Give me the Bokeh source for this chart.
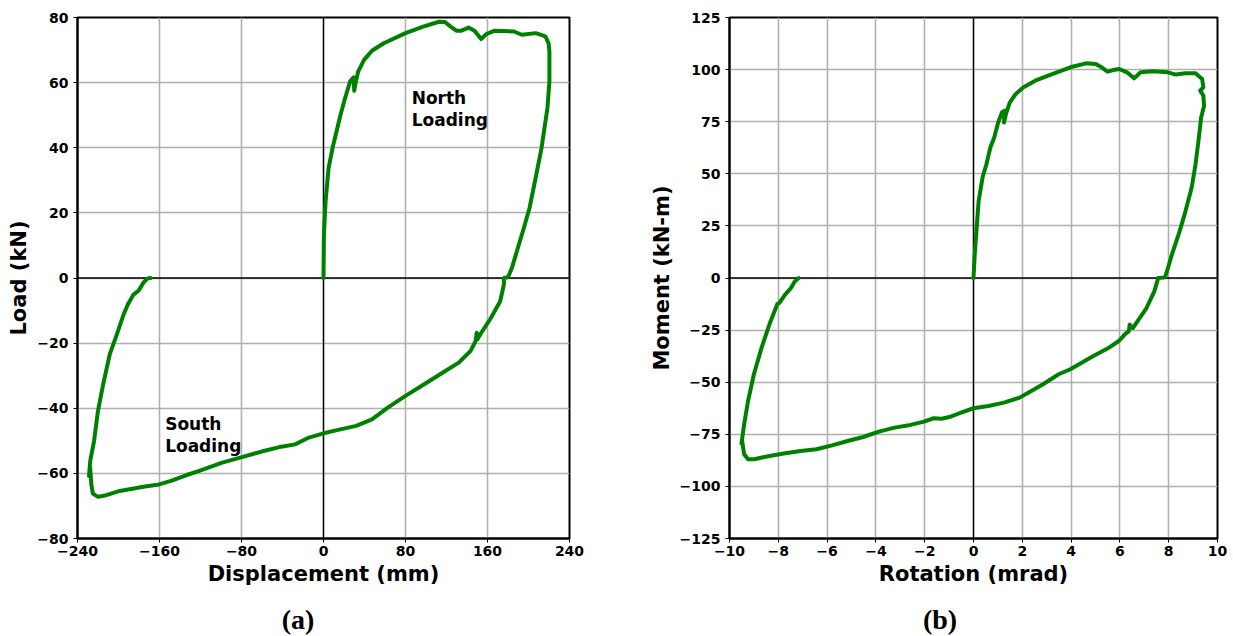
from bokeh.plotting import figure
from bokeh.models import Range1d, FixedTicker, Span, Label, Div
from bokeh.layouts import row, column
from bokeh.embed import file_html
from bokeh.resources import INLINE

# ---- panel (a): Displacement (mm) vs Load (kN)
disp = [0, 0.4, 2, 5, 8.8, 12.7, 16.5, 21, 26, 29.2, 30, 31, 33.8, 39.6, 47.3, 58.8,
        80, 97.3, 112.7, 118.5, 124, 130, 134, 141.5, 147.3, 153.8, 158.8, 166.5,
        185.8, 193.5, 207, 216.5, 219.6, 220.4, 220.4, 218.5, 212.7, 206.9, 201,
        195.4, 189.6, 183.8, 180, 176, 176, 172.3, 162.7, 155, 150, 149.5, 148.5,
        143.5, 132, 116.5, 101, 80, 62.7, 47.3, 31.9, 16.5, 0, -14.2, -27.7, -41.2,
        -45, -60.4, -79.6, -98.8, -121.9, -133.5, -148.8, -160.4, -175.8, -198.8,
        -214.2, -220, -225, -226.5, -227.7, -228.8, -227.5, -223.8, -220, -215,
        -208.5, -202.7, -195, -191, -185.4, -180.4, -175.8, -172, -168.8]
load = [0, 13.3, 23.5, 33.8, 39.9, 45, 50, 55.2, 60.4, 61.6, 57.5, 59.5, 63.4, 67,
        69.8, 72.1, 75.2, 77.2, 78.7, 78.6, 77.2, 75.9, 75.9, 76.9, 75.9, 73.4, 74.9,
        75.9, 75.7, 74.7, 75.2, 74.2, 72.1, 69.6, 60.4, 52.2, 39.9, 30.7, 21.5, 15.3,
        9.2, 3.1, 0.2, 0, -2, -7.2, -12.6, -16.3, -18.9, -16.8, -19.3, -22.4, -26,
        -29, -32.1, -36.2, -39.8, -43.4, -45.4, -46.5, -47.7, -49, -51.1, -51.8,
        -52.1, -53.3, -55, -56.7, -59.3, -60.5, -62.3, -63.4, -64.1, -65.4, -66.9,
        -67.2, -66.2, -63.4, -58.2, -60.8, -56, -50, -40.8, -32.7, -23.4, -18.3,
        -11.2, -8.2, -5.1, -3.9, -1.5, -0.2, 0]
disp_ticks = [-240, -160, -80, 0, 80, 160, 240]
load_ticks = [-80, -60, -40, -20, 0, 20, 40, 60, 80]

# ---- panel (b): Rotation (mrad) vs Moment (kN-m)
rot = [0, 0.05, 0.13, 0.21, 0.37, 0.53, 0.69, 0.85, 1.01, 1.17, 1.28, 1.25, 1.33,
       1.49, 1.73, 2.05, 2.53, 3.17, 3.97, 4.61, 5.01, 5.25, 5.49, 5.73, 5.97, 6.29,
       6.58, 6.85, 7.33, 7.97, 8.29, 8.69, 9.1, 9.37, 9.42, 9.29, 9.42, 9.45, 9.33,
       9.22, 9.1, 8.94, 8.69, 8.45, 8.13, 7.97, 7.85, 7.57, 7.41, 7.09, 6.85, 6.53,
       6.4, 6.37, 6.21, 5.97, 5.57, 4.93, 3.97, 3.49, 2.85, 2.37, 1.89, 1.25, 0.61,
       0, -0.51, -0.99, -1.31, -1.63, -2.03, -2.59, -3.23, -3.88, -4.52, -5.16,
       -5.8, -6.44, -7.08, -7.72, -8.36, -9.0, -9.24, -9.4, -9.48, -9.51, -9.4,
       -9.24, -9.0, -8.68, -8.36, -8.04, -7.96, -7.72, -7.48, -7.32, -7.16]
moment = [0, 11.2, 24.1, 36.9, 48.2, 54.6, 62.6, 67.4, 74.6, 79.5, 80.3, 74.6, 78.7,
          84.3, 88.3, 91.5, 94.7, 97.6, 101.1, 103, 102.7, 101.1, 99, 99.8, 100.3,
          98.7, 95.8, 98.7, 99.2, 98.7, 97.6, 98.2, 98.2, 95.5, 91.5, 89.9, 87.5,
          82.7, 77, 65.8, 54.6, 43.3, 32.1, 22.5, 11.2, 4.8, 0.3, 0, -6.4, -14.4,
          -18.5, -24, -22.4, -25.5, -26.9, -30.1, -33.3, -37.3, -43.8, -46.2, -51,
          -54.2, -57.4, -59.8, -61.4, -62.5, -64.6, -66.7, -67.5, -67.3, -68.9,
          -70.5, -71.8, -73.7, -76.3, -78.2, -80.3, -82.2, -83, -84.1, -85.4, -87,
          -87, -84.6, -78.2, -79.5, -70.2, -59, -46.2, -33.3, -22.1, -12.5, -12,
          -8, -4.8, -1.6, 0]
rot_ticks = [-10, -8, -6, -4, -2, 0, 2, 4, 6, 8, 10]
moment_ticks = [-125, -100, -75, -50, -25, 0, 25, 50, 75, 100, 125]

FONT = "DejaVu Sans"
FIG_H = 594


def make_panel(xs, ys, xr, yr, xt, yt, xlabel, ylabel, width, bl, br):
    p = figure(width=width, height=FIG_H, x_range=Range1d(*xr), y_range=Range1d(*yr),
               output_backend="svg", toolbar_location=None,
               min_border_left=bl, min_border_right=br,
               min_border_top=17, min_border_bottom=FIG_H - 538)
    p.background_fill_color = "white"
    p.border_fill_color = "white"
    p.outline_line_color = "black"
    p.outline_line_width = 2

    for ax, ticks, lab, std, lstd in ((p.xaxis[0], xt, xlabel, 3, 3),
                                      (p.yaxis[0], yt, ylabel, 5, 3)):
        ax.ticker = FixedTicker(ticks=ticks)
        ax.major_label_overrides = {t: str(t).replace("-", "\u2212") for t in ticks}
        ax.axis_label = lab
        ax.axis_label_text_font = FONT
        ax.axis_label_text_font_style = "bold"
        ax.axis_label_text_font_size = "21px"
        ax.axis_label_text_color = "black"
        ax.axis_label_standoff = lstd
        ax.major_label_text_font = FONT
        ax.major_label_text_font_style = "bold"
        ax.major_label_text_font_size = "14px"
        ax.major_label_text_color = "black"
        ax.major_label_standoff = std
        ax.major_tick_out = 4
        ax.major_tick_in = 0
        ax.minor_tick_out = 0
        ax.minor_tick_in = 0
        ax.major_tick_line_color = "black"
        ax.axis_line_color = "black"
        ax.axis_line_width = 2

    p.xgrid.ticker = FixedTicker(ticks=xt)
    p.ygrid.ticker = FixedTicker(ticks=yt)
    p.grid.grid_line_color = "#b0b0b0"
    p.grid.grid_line_width = 1.6

    p.add_layout(Span(location=0, dimension="width", line_color="black",
                      line_width=1.4, level="underlay"))
    p.add_layout(Span(location=0, dimension="height", line_color="black",
                      line_width=1.4, level="underlay"))

    p.line(xs, ys, line_color="#008000", line_width=4,
           line_join="round", line_cap="round")
    return p


def caption(text, width, center_x):
    style = ("width:100px;height:40px;line-height:40px;text-align:center;"
             "font-family:'Liberation Serif';font-size:28px;font-weight:bold;"
             "color:black;margin-top:%dpx;margin-left:%dpx;" % (620 - FIG_H - 20,
                                                                  center_x - 50))
    return Div(text="<div style=\"%s\">%s</div>" % (style, text),
               width=width, height=636 - FIG_H, margin=0)


pa = make_panel(disp, load, (-240, 240), (-80, 80), disp_ticks, load_ticks,
                "Displacement (mm)", "Load (kN)", 609, 77, 40)
pa.add_layout(Label(x=86, y=58.5, text="North\nLoading", text_font=FONT,
                    text_font_style="bold", text_font_size="17px",
                    text_baseline="top", text_line_height=1.1, text_color="black"))
pa.add_layout(Label(x=-154.5, y=-41.8, text="South\nLoading", text_font=FONT,
                    text_font_style="bold", text_font_size="17px",
                    text_baseline="top", text_line_height=1.1, text_color="black"))

pb = make_panel(rot, moment, (-10, 10), (-125, 125), rot_ticks, moment_ticks,
                "Rotation (mrad)", "Moment (kN-m)", 624, 120, 16)

cap_a = caption("(a)", 609, 298)
cap_b = caption("(b)", 624, 940 - 609)

layout = column(row(pa, pb), row(cap_a, cap_b))
open("out.html", "w").write(file_html(layout, INLINE))
